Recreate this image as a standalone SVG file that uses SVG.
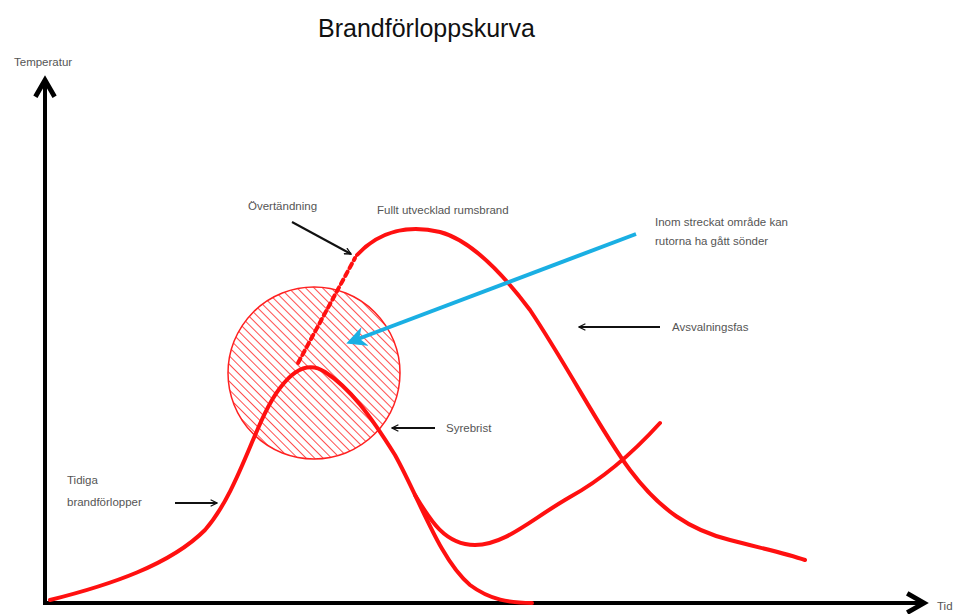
<svg xmlns="http://www.w3.org/2000/svg" width="957" height="614" viewBox="0 0 957 614">
<defs>
<style>
.lbl{font-family:"Liberation Sans",Arial,sans-serif;font-size:11.5px;fill:#555}
.title{font-family:"Liberation Sans",Arial,sans-serif;font-size:25px;fill:#111}
.curve{fill:none;stroke:#ff1010;stroke-width:4;stroke-linecap:round}
.blk{fill:none;stroke:#111;stroke-width:2}
.axis{fill:none;stroke:#000;stroke-width:4}
</style>
<marker id="ah" viewBox="0 0 10 10" refX="9" refY="5" markerWidth="8" markerHeight="8" markerUnits="userSpaceOnUse" orient="auto">
<path d="M1,1 L9,5 L1,9" fill="none" stroke="#111" stroke-width="1.6"/>
</marker>
<marker id="axh" viewBox="0 0 10 10" refX="8" refY="5" markerWidth="6" markerHeight="6" orient="auto">
<path d="M1,1 L8,5 L1,9" fill="none" stroke="#000" stroke-width="2"/>
</marker>
<marker id="bh" viewBox="0 0 10 10" refX="8" refY="5" markerWidth="5" markerHeight="5" orient="auto">
<path d="M0,0 L10,5 L0,10 L3,5 Z" fill="#1aafe3"/>
</marker>
<pattern id="hatch" patternUnits="userSpaceOnUse" width="6" height="6" patternTransform="rotate(-45)">
<rect width="6" height="6" fill="#fff"/>
<line x1="0" y1="0" x2="0" y2="6" stroke="#ff2020" stroke-width="1.6"/>
</pattern>
</defs>
<rect width="957" height="614" fill="#fff"/>
<text class="title" x="318" y="37">Brandförloppskurva</text>
<g id="axes">
<line class="axis" x1="45" y1="603" x2="45" y2="80" marker-end="url(#axh)"/>
<line class="axis" x1="43" y1="603" x2="924" y2="603" marker-end="url(#axh)"/>
</g>
<g id="zone">
<circle cx="314" cy="373" r="86" fill="url(#hatch)" stroke="#ff2020" stroke-width="1.5"/>
</g>
<g id="curves">
<path class="curve" d="M50,600 C110,585 170,565 205,530 C240,490 255,420 280,388 C295,368 310,362 325,372 C350,388 370,415 395,455 C420,500 440,560 470,585 C490,600 510,603 532,603"/>
<path class="curve" d="M298,363 L355,258" stroke-dasharray="5 4"/>
<path class="curve" d="M357,255 C380,230 410,225 440,232 C470,240 500,270 530,310 C570,370 600,430 630,470 C660,510 690,530 730,540 C760,548 785,553 805,560"/>
<path class="curve" d="M415,495 C430,520 445,545 475,545 C505,545 530,520 570,497 C610,475 640,445 660,423"/>
</g>
<g id="connectors">
<line class="blk" x1="292" y1="222" x2="351" y2="254" marker-end="url(#ah)"/>
<line class="blk" x1="660" y1="327" x2="579" y2="327" marker-end="url(#ah)"/>
<line class="blk" x1="435" y1="428" x2="392" y2="428" marker-end="url(#ah)"/>
<line class="blk" x1="175" y1="503" x2="217" y2="503" marker-end="url(#ah)"/>
<line x1="636" y1="234" x2="350" y2="342" stroke="#1aafe3" stroke-width="4" marker-end="url(#bh)"/>
</g>
<g id="labels">
<text class="lbl" x="14" y="66">Temperatur</text>
<text class="lbl" x="937" y="610">Tid</text>
<text class="lbl" x="248" y="210">Övertändning</text>
<text class="lbl" x="377" y="214">Fullt utvecklad rumsbrand</text>
<text class="lbl" x="655" y="226">Inom streckat område kan</text>
<text class="lbl" x="655" y="245">rutorna ha gått sönder</text>
<text class="lbl" x="672" y="331">Avsvalningsfas</text>
<text class="lbl" x="446" y="432">Syrebrist</text>
<text class="lbl" x="67" y="484">Tidiga</text>
<text class="lbl" x="67" y="506">brandförlopper</text>
</g>
</svg>
